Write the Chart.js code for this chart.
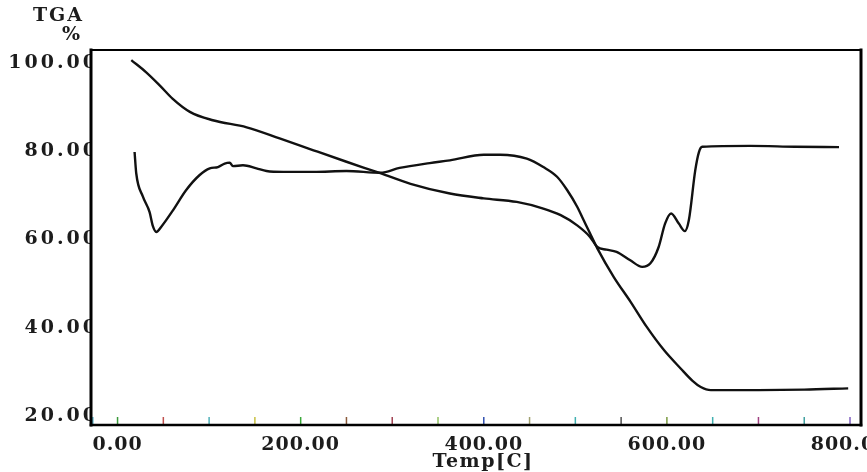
<!DOCTYPE html>
<html><head><meta charset="utf-8">
<script src="https://cdn.jsdelivr.net/npm/chart.js@4.4.1/dist/chart.umd.min.js"></script>
<style>html,body{margin:0;padding:0;background:#fff;}canvas{display:block}</style>
</head><body>
<canvas id="c" width="867" height="472"></canvas>
<script>
// Curve starting at 100 % (upper-left start)
const curveATemp = [15, 31, 46, 60, 79, 104, 141, 177, 214, 250, 287, 320, 363, 400, 436, 465, 484, 502, 516, 524, 534, 545, 560, 573, 582, 591, 598, 604.6, 613, 619.6, 624, 631, 635, 638.6, 691, 740, 788];
const curveAVal  = [100.6, 97.9, 94.9, 91.9, 88.9, 87.0, 85.4, 82.9, 80.2, 77.6, 75.0, 72.6, 70.4, 69.3, 68.5, 67.0, 65.5, 63.2, 60.6, 58.3, 57.7, 57.2, 55.3, 53.8, 54.6, 58.3, 63.6, 65.9, 63.6, 61.9, 64.4, 75.7, 79.8, 81.0, 81.2, 81.0, 80.9];
// Curve starting near 80 (DTA-like trace)
const curveBTemp = [18.6, 20.4, 27.7, 35, 38.6, 42.3, 47.8, 60.5, 75, 89.7, 100.7, 109.7, 117, 122.5, 126, 137, 151.7, 162.7, 181, 214, 250, 287, 308, 341, 363, 400, 418, 447, 465, 480, 491, 502, 509, 516, 524, 542, 560, 578, 597, 615, 628, 637, 648, 700, 750, 798];
const curveBVal  = [79.8, 75.0, 69.7, 66.2, 63.0, 61.7, 62.9, 66.6, 71.2, 74.6, 76.1, 76.4, 77.2, 77.4, 76.6, 76.8, 76.1, 75.5, 75.3, 75.3, 75.5, 75.1, 76.2, 77.3, 77.9, 79.2, 79.2, 78.3, 76.4, 74.2, 71.2, 67.4, 64.4, 61.4, 58.0, 51.5, 46.0, 40.2, 34.9, 30.8, 28.0, 26.6, 25.9, 25.9, 26.0, 26.3];

const xTickValues = [0, 200, 400, 600, 800];
const yTickValues = [20, 40, 60, 80, 100];
const minorTickTemps = [-27, 0, 50, 100, 150, 200, 250, 300, 350, 400, 450, 500, 550, 600, 650, 700, 750, 800];
const minorTickColors = ['#5ab4c8', '#3a9a3a', '#c0504d', '#4fb0b8', '#c8c040', '#3aa83a', '#8a5a3a', '#a04050', '#90c060', '#3050b0', '#a0a070', '#40b0b0', '#505050', '#7a9a40', '#40b0b0', '#a04080', '#40a0a0', '#8060c0'];
const yTitleLines = ['TGA', '%'];
const xTitleText = 'Temp[C]';

const FONT = {family: '"DejaVu Serif", "Liberation Serif", serif', size: 19, weight: 'bold'};
const TEXT_COLOR = '#1c1c1c';

const toXY = (xs, ys) => xs.map((x, i) => ({x: x, y: ys[i]}));

// widen scale text slightly (the reference lettering is horizontally stretched)
function spaced(fn, spacing, dx) {
  return function (...args) {
    const c = this.ctx;
    const prev = c.letterSpacing;
    c.save();
    c.translate(dx || 0, 0);
    c.letterSpacing = spacing;
    fn.apply(this, args);
    c.restore();
    c.letterSpacing = prev;
  };
}
function wrapScale(s, labelSpacing, titleSpacing, titleDx) {
  if (s._spacedWrap) return;
  s.drawLabels = spaced(s.drawLabels, labelSpacing, 0);
  s.drawTitle = spaced(s.drawTitle, titleSpacing, titleDx);
  s._spacedWrap = true;
}

const framePlugin = {
  id: 'frame',
  afterDatasetsDraw(chart) {
    const {ctx, chartArea: a, scales} = chart;
    ctx.save();
    minorTickTemps.forEach((t, i) => {
      const px = scales.x.getPixelForValue(t);
      ctx.strokeStyle = minorTickColors[i % minorTickColors.length];
      ctx.lineWidth = 1.5;
      ctx.beginPath();
      ctx.moveTo(px, a.bottom - 8);
      ctx.lineTo(px, a.bottom);
      ctx.stroke();
    });
    ctx.strokeStyle = '#000';
    ctx.lineCap = 'square';
    ctx.lineWidth = 2;
    ctx.beginPath(); ctx.moveTo(a.left, a.top); ctx.lineTo(a.right, a.top); ctx.stroke();
    ctx.lineWidth = 2.5;
    ctx.beginPath(); ctx.moveTo(a.left, a.bottom); ctx.lineTo(a.right, a.bottom); ctx.stroke();
    ctx.lineWidth = 3;
    ctx.beginPath(); ctx.moveTo(a.left, a.top); ctx.lineTo(a.left, a.bottom); ctx.stroke();
    ctx.beginPath(); ctx.moveTo(a.right, a.top); ctx.lineTo(a.right, a.bottom); ctx.stroke();
    ctx.fillStyle = TEXT_COLOR;
    ctx.font = `${FONT.weight} ${FONT.size}px ${FONT.family}`;
    ctx.textAlign = 'right';
    ctx.textBaseline = 'middle';
    ctx.letterSpacing = '2px';
    ctx.fillText(yTitleLines[0], 84, 16);
    ctx.fillText(yTitleLines[1], 82, 35);
    ctx.restore();
  }
};

const lineStyle = {borderColor: '#111', borderWidth: 2.4, pointRadius: 0, fill: false, cubicInterpolationMode: 'monotone'};

new Chart(document.getElementById('c'), {
  type: 'line',
  data: {
    datasets: [
      Object.assign({label: 'A', data: toXY(curveATemp, curveAVal)}, lineStyle),
      Object.assign({label: 'B', data: toXY(curveBTemp, curveBVal)}, lineStyle)
    ]
  },
  options: {
    responsive: false,
    animation: false,
    devicePixelRatio: 1,
    layout: {autoPadding: false, padding: {top: 50, right: 6, left: 0, bottom: 0}},
    plugins: {legend: {display: false}, tooltip: {enabled: false}, title: {display: false}},
    scales: {
      x: {
        type: 'linear', min: -29, max: 812,
        grid: {display: false, drawTicks: false},
        border: {display: false},
        afterBuildTicks: s => { s.ticks = xTickValues.map(v => ({value: v})); },
        afterFit: s => { s.height = 47; s.paddingLeft = 0; s.paddingRight = 0; },
        afterUpdate: s => wrapScale(s, '1px', '1.5px', 7),
        ticks: {font: FONT, color: TEXT_COLOR, padding: 9, maxRotation: 0, autoSkip: false,
                callback: v => Number(v).toFixed(2)},
        title: {display: true, text: xTitleText, font: Object.assign({}, FONT, {lineHeight: 1}), color: TEXT_COLOR, padding: 0}
      },
      y: {
        type: 'linear', min: 18, max: 102.9,
        grid: {display: false, drawTicks: false},
        border: {display: false},
        afterBuildTicks: s => { s.ticks = yTickValues.map(v => ({value: v})); },
        afterFit: s => { s.width = 91; s.paddingTop = 0; s.paddingBottom = 0; },
        afterUpdate: s => wrapScale(s, '3px', '0px', 0),
        ticks: {font: FONT, color: TEXT_COLOR, padding: -8, autoSkip: false,
                callback: v => Number(v).toFixed(2)}
      }
    }
  },
  plugins: [framePlugin]
});
</script>
</body></html>
